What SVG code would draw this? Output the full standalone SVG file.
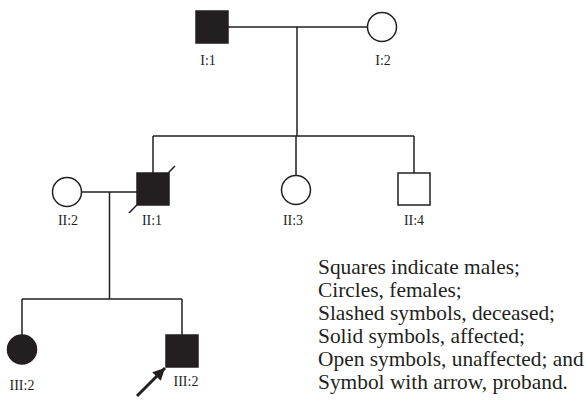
<svg xmlns="http://www.w3.org/2000/svg" width="586" height="410" viewBox="0 0 586 410">
<style>
.ln{stroke:#231f20;stroke-width:1.5;fill:none}
.aff{fill:#231f20;stroke:#231f20;stroke-width:1.5}
.un{fill:#fff;stroke:#231f20;stroke-width:1.5}
.lbl{font-family:"Liberation Serif","Times New Roman",serif;font-size:14px;fill:#231f20;text-anchor:middle}
.leg{font-family:"Liberation Serif","Times New Roman",serif;font-size:21.4px;fill:#231f20}
</style>
<defs>
<marker id="ah" viewBox="0 0 10 10" refX="10" refY="5" markerWidth="4.5" markerHeight="4" orient="auto" markerUnits="strokeWidth">
<path d="M0,0 L10,5 L0,10 z" fill="#231f20"/>
</marker>
</defs>
<g id="connectors">
<line class="ln" x1="228" y1="27" x2="367.5" y2="27"/>
<line class="ln" x1="297" y1="27" x2="297" y2="136"/>
<line class="ln" x1="153" y1="136" x2="414" y2="136"/>
<line class="ln" x1="153" y1="136" x2="153" y2="173"/>
<line class="ln" x1="296" y1="136" x2="296" y2="175.5"/>
<line class="ln" x1="414" y1="136" x2="414" y2="173"/>
<line class="ln" x1="81.5" y1="192" x2="137" y2="192"/>
<line class="ln" x1="109.5" y1="192" x2="109.5" y2="299"/>
<line class="ln" x1="22" y1="299" x2="182" y2="299"/>
<line class="ln" x1="22" y1="299" x2="22" y2="335"/>
<line class="ln" x1="182" y1="299" x2="182" y2="335"/>
</g>
<g id="I1">
<rect class="aff" x="196" y="11" width="32" height="32"/>
<text class="lbl" x="208" y="65">I:1</text>
</g>
<g id="I2">
<circle class="un" cx="382" cy="27" r="14.5"/>
<text class="lbl" x="383" y="65">I:2</text>
</g>
<g id="II2">
<circle class="un" cx="67" cy="192" r="14.5"/>
<text class="lbl" x="68" y="225">II:2</text>
</g>
<g id="II1">
<rect class="aff" x="137" y="173" width="32" height="32"/>
<line class="ln" x1="129" y1="213" x2="175" y2="166"/>
<text class="lbl" x="152" y="225">II:1</text>
</g>
<g id="II3">
<circle class="un" cx="296" cy="190" r="14.5"/>
<text class="lbl" x="293" y="225">II:3</text>
</g>
<g id="II4">
<rect class="un" x="398" y="173" width="32" height="32"/>
<text class="lbl" x="414" y="225">II:4</text>
</g>
<g id="III2a">
<circle class="aff" cx="22" cy="349.5" r="14.5"/>
<text class="lbl" x="22" y="390">III:2</text>
</g>
<g id="III2b">
<rect class="aff" x="166" y="335" width="32" height="32"/>
<text class="lbl" x="186" y="386">III:2</text>
<line x1="137" y1="396" x2="165" y2="368" stroke="#231f20" stroke-width="3" marker-end="url(#ah)"/>
</g>
<g id="legend">
<text class="leg" x="318" y="274">Squares indicate males;</text>
<text class="leg" x="318" y="297">Circles, females;</text>
<text class="leg" x="318" y="320">Slashed symbols, deceased;</text>
<text class="leg" x="318" y="343">Solid symbols, affected;</text>
<text class="leg" x="318" y="366">Open symbols, unaffected; and</text>
<text class="leg" x="318" y="389">Symbol with arrow, proband.</text>
</g>
</svg>
